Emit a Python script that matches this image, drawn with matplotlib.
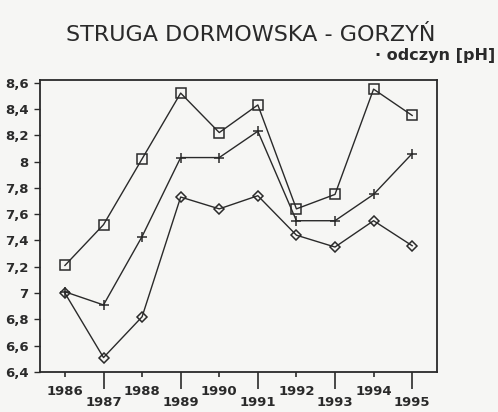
import numpy as np
import matplotlib.pyplot as plt
from matplotlib.ticker import FixedLocator, FuncFormatter

years = [1986, 1987, 1988, 1989, 1990, 1991, 1992, 1993, 1994, 1995]
ph_max = [7.21, 7.52, 8.02, 8.52, 8.22, 8.43, 7.64, 7.75, 8.55, 8.35]
ph_mean = [7.01, 6.91, 7.43, 8.03, 8.03, 8.23, 7.55, 7.55, 7.75, 8.06]
ph_min = [7.0, 6.51, 6.82, 7.73, 7.64, 7.74, 7.44, 7.35, 7.55, 7.36]
y_ticks = [6.4, 6.6, 6.8, 7.0, 7.2, 7.4, 7.6, 7.8, 8.0, 8.2, 8.4, 8.6]

bg = '#f6f6f4'
ink = '#2a2a2a'

fig = plt.figure(figsize=(4.98, 4.12), dpi=100, facecolor=bg)
ax = fig.add_axes([0.080, 0.097, 0.798, 0.709], facecolor=bg)

ax.plot(years, ph_max, color=ink, lw=1.0, marker='s', ms=7, mfc='none', mec=ink, mew=1.1)
ax.plot(years, ph_mean, color=ink, lw=1.0, marker='+', ms=7.5, mew=1.1)
ax.plot(years, ph_min, color=ink, lw=1.0, marker='D', ms=5, mfc='none', mec=ink, mew=1.1)

ax.set_xlim(1985.35, 1995.65)
ax.set_ylim(6.4, 8.62)

def comma(v, pos):
    s = ('%.1f' % v).replace('.', ',')
    return s[:-2] if s.endswith(',0') else s

ax.set_yticks(y_ticks)
ax.yaxis.set_major_formatter(FuncFormatter(comma))
ax.tick_params(axis='y', direction='out', length=4, width=1, pad=4, colors=ink,
               labelsize=9.5)
for t in ax.get_yticklabels():
    t.set_fontweight('bold')

# even years upper row, odd years lower row with longer ticks
ax.xaxis.set_major_locator(FixedLocator(years[0::2]))
ax.xaxis.set_minor_locator(FixedLocator(years[1::2]))
ax.xaxis.set_major_formatter(FuncFormatter(lambda v, p: '%d' % v))
ax.xaxis.set_minor_formatter(FuncFormatter(lambda v, p: '%d' % v))
ax.tick_params(axis='x', which='major', direction='out', length=3.6, width=1.2,
               pad=5.5, colors=ink, labelsize=9.5)
ax.tick_params(axis='x', which='minor', direction='out', length=12, width=1.2,
               pad=5.5, colors=ink, labelsize=9.5)
for t in ax.get_xticklabels(which='both'):
    t.set_fontweight('bold')

for s in ax.spines.values():
    s.set_color(ink)
    s.set_linewidth(1.3)

fig.text(0.504, 0.915, 'STRUGA DORMOWSKA - GORZYŃ', ha='center', va='center',
         fontsize=16, color=ink)
fig.text(0.994, 0.866, '· odczyn [pH]', ha='right', va='center',
         fontsize=11.5, fontweight='bold', color=ink)

fig.savefig('out.png', dpi=100, facecolor=bg)
